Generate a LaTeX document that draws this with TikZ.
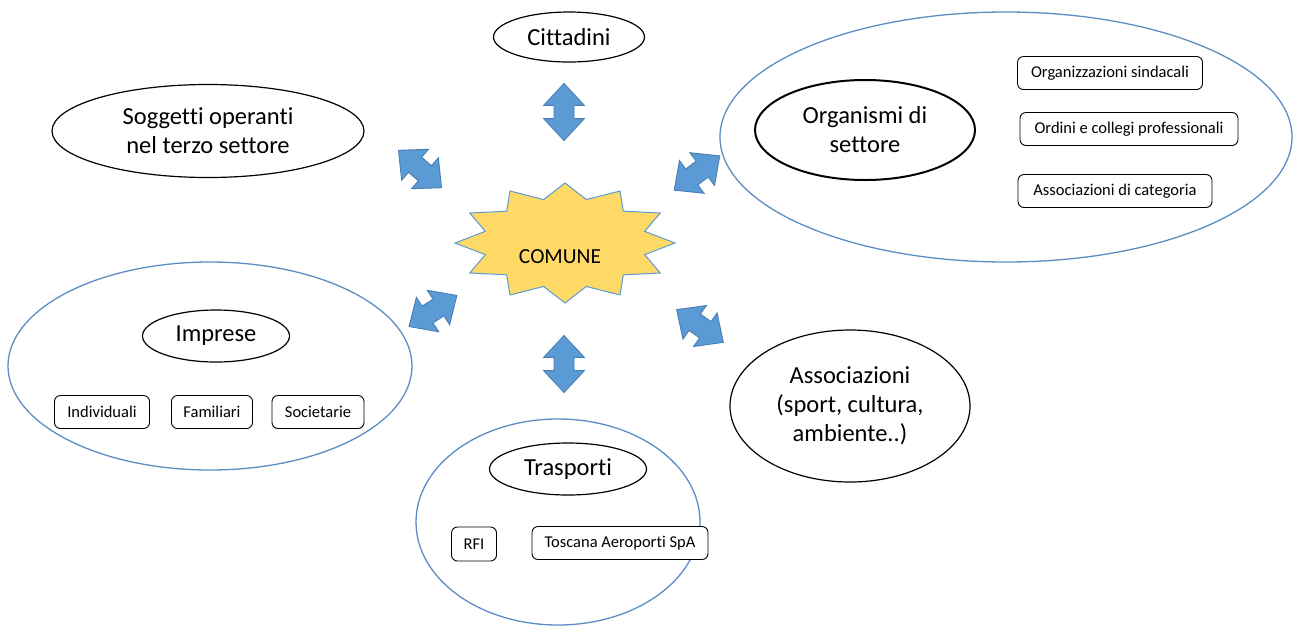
\documentclass[tikz,border=0pt]{standalone}
\usepackage{fontspec}
\setmainfont{Carlito}[Ligatures=NoCommon]
\usetikzlibrary{shapes.geometric}
\definecolor{rimblue}{HTML}{5E8CC4}
\definecolor{arrowfill}{HTML}{5B9BD5}
\definecolor{arrowrim}{HTML}{4A7EB5}
\definecolor{staryellow}{HTML}{FFD966}
\tikzset{
  bigfont/.style={font=\fontsize{24.5}{29}\selectfont},
  boxfont/.style={font=\fontsize{16.5}{19}\selectfont},
  label/.style={ellipse, draw=black, line width=1.2pt, fill=white, inner sep=0pt, align=center, bigfont},
  group/.style={ellipse, draw=rimblue, line width=1.3pt, inner sep=0pt},
  item/.style={rectangle, rounded corners=6pt, draw=black, line width=0.9pt, fill=white,
               minimum height=33pt, inner sep=0pt, boxfont},
  dblarrow/.pic={
    \path[fill=arrowfill, draw=arrowrim, line width=0.9pt, line join=miter]
      (-28.5,0) -- (-6.5,20.5) -- (-6.5,10) -- (6.5,10) -- (6.5,20.5) -- (28.5,0)
      -- (6.5,-20.5) -- (6.5,-10) -- (-6.5,-10) -- (-6.5,-20.5) -- cycle;
  }
}
\begin{document}
\begin{tikzpicture}[x=1pt, y=-1pt]
\useasboundingbox[fill=white] (0,0) rectangle (1301,625);

% outer groups
\node[group, minimum width=572pt, minimum height=250pt] (orggroup) at (1006,137) {};
\node[group, minimum width=404pt, minimum height=208pt] (impgroup) at (210,366) {};
\node[group, minimum width=284pt, minimum height=206pt] (trgroup) at (558,522) {};

% central star
\draw[fill=staryellow, draw=arrowfill, line width=1pt, line join=miter]
  plot[samples at={0,...,23}, variable=\k]
    ({565 + ifthenelse(mod(\k,2)==0,110,82.5)*cos(90+15*\k)},
     {243 - ifthenelse(mod(\k,2)==0,60,45)*sin(90+15*\k)}) -- cycle;
\node[font=\fontsize{21.5}{25}\selectfont] (comune) at (560,257) {COMUNE};

% labelled ellipses
\node[label, minimum width=151pt, minimum height=50pt] (cittadini) at (569,37) {Cittadini};
\node[label, minimum width=312pt, minimum height=93pt] (terzo) at (208,131) {Soggetti operanti\\nel terzo settore};
\node[label, line width=2pt, minimum width=220pt, minimum height=100pt] (organismi) at (865,130) {Organismi di\\settore};
\node[label, minimum width=240pt, minimum height=152pt] (assoc) at (850,406) {Associazioni\\(sport, cultura,\\ambiente..)};
\node[label, minimum width=147pt, minimum height=52pt] (imprese) at (216,336) {Imprese};
\node[label, minimum width=157pt, minimum height=52pt] (trasporti) at (568,469) {Trasporti};

% sector bodies
\node[item, minimum width=185pt] (sindacali) at (1110,73) {Organizzazioni sindacali};
\node[item, minimum width=218pt] (ordini) at (1129,129) {Ordini e collegi professionali};
\node[item, minimum width=194pt] (categoria) at (1115,191) {Associazioni di categoria};

% kinds of enterprise
\node[item, minimum width=95pt] (individuali) at (102,412) {Individuali};
\node[item, minimum width=81pt] (familiari) at (212,412) {Familiari};
\node[item, minimum width=92pt] (societarie) at (318,412) {Societarie};

% transport operators
\node[item, minimum width=45pt, minimum height=34pt] (rfi) at (474,544) {RFI};
\node[item, minimum width=176pt] (aeroporti) at (620,543) {Toscana Aeroporti SpA};

% two-way relations with the municipality
\pic[rotate=90] (upcit) at (564,112) {dblarrow};
\pic[rotate=90] (downtr) at (564,364) {dblarrow};
\pic[rotate=-41] (ulterzo) at (420,169) {dblarrow};
\pic[rotate=37] (urorg) at (697,173) {dblarrow};
\pic[rotate=33] (llimp) at (433,311) {dblarrow};
\pic[rotate=-35] (lrassoc) at (700,326) {dblarrow};
\end{tikzpicture}
\end{document}
